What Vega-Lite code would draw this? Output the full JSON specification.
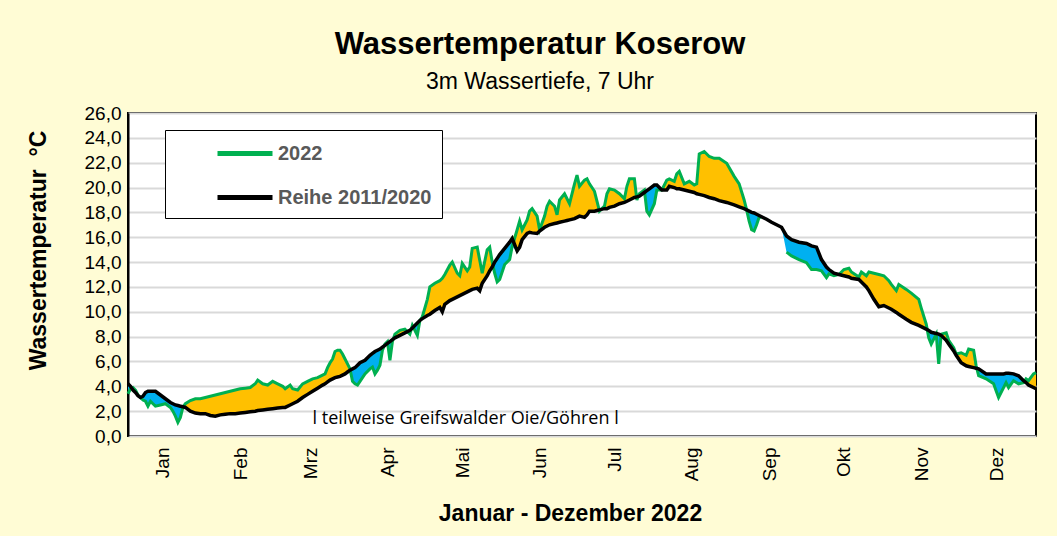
{
  "$schema": "https://vega.github.io/schema/vega-lite/v6.json",
  "autosize": {"type": "none"},
  "width": 908,
  "height": 323,
  "padding": {"left": 128, "top": 113, "right": 21, "bottom": 100},
  "title": {"text": "Wassertemperatur Koserow", "subtitle": "3m Wassertiefe, 7 Uhr", "font": "Liberation Sans", "fontSize": 31, "fontWeight": "bold", "color": "#000", "subtitleFont": "Liberation Sans", "subtitleFontSize": 23, "subtitleColor": "#000", "anchor": "middle", "dx": -42, "offset": 9, "subtitlePadding": 10},
  "config": {
    "background": "#FFFCD5",
    "view": {"fill": "white", "stroke": "#000", "strokeWidth": 2},
    "font": "Liberation Sans",
    "axis": {"labelFont": "Liberation Sans", "labelFontSize": 19, "labelColor": "#000", "titleFont": "Liberation Sans", "titleFontSize": 23, "titleFontWeight": "bold", "titleColor": "#000", "ticks": false, "labelOverlap": false},
    "axisY": {"labelFontSize": 19, "labelOverlap": false, "labelSeparation": 0, "tickCount": 14}
  },
  "data": {"values": [
    {"day":1,"y2022":3.4,"ref":4.2},{"day":2,"y2022":3.8,"ref":4.0},{"day":3,"y2022":3.9,"ref":3.7},{"day":4,"y2022":3.7,"ref":3.5},{"day":5,"y2022":3.3,"ref":3.25},{"day":6,"y2022":3.1,"ref":3.1},{"day":7,"y2022":2.9,"ref":3.2},{"day":8,"y2022":2.8,"ref":3.5},{"day":9,"y2022":2.4,"ref":3.6},{"day":10,"y2022":2.8,"ref":3.6},{"day":11,"y2022":2.6,"ref":3.6},{"day":12,"y2022":2.4,"ref":3.6},{"day":14,"y2022":2.5,"ref":3.3},{"day":16,"y2022":2.6,"ref":3.0},{"day":18,"y2022":2.3,"ref":2.7},{"day":19,"y2022":2.0,"ref":2.6},{"day":20,"y2022":1.6,"ref":2.5},{"day":21,"y2022":1.1,"ref":2.45},{"day":22,"y2022":1.5,"ref":2.4},{"day":23,"y2022":2.3,"ref":2.35},{"day":24,"y2022":2.6,"ref":2.3},{"day":26,"y2022":2.85,"ref":2.0},{"day":28,"y2022":3.0,"ref":1.85},{"day":30,"y2022":3.0,"ref":1.8},{"day":32,"y2022":3.1,"ref":1.8},{"day":34,"y2022":3.2,"ref":1.65},{"day":36,"y2022":3.3,"ref":1.6},{"day":38,"y2022":3.4,"ref":1.7},{"day":40,"y2022":3.5,"ref":1.75},{"day":42,"y2022":3.6,"ref":1.8},{"day":44,"y2022":3.7,"ref":1.8},{"day":46,"y2022":3.8,"ref":1.85},{"day":48,"y2022":3.85,"ref":1.9},{"day":50,"y2022":3.9,"ref":1.95},{"day":52,"y2022":4.2,"ref":2.0},{"day":53,"y2022":4.5,"ref":2.05},{"day":55,"y2022":4.2,"ref":2.1},{"day":57,"y2022":4.1,"ref":2.15},{"day":59,"y2022":4.4,"ref":2.2},{"day":61,"y2022":4.2,"ref":2.25},{"day":63,"y2022":4.0,"ref":2.3},{"day":64,"y2022":3.8,"ref":2.3},{"day":66,"y2022":4.1,"ref":2.5},{"day":67,"y2022":3.8,"ref":2.6},{"day":69,"y2022":3.7,"ref":2.8},{"day":71,"y2022":4.2,"ref":3.1},{"day":73,"y2022":4.4,"ref":3.35},{"day":75,"y2022":4.6,"ref":3.6},{"day":77,"y2022":4.7,"ref":3.85},{"day":79,"y2022":4.9,"ref":4.1},{"day":80,"y2022":5.0,"ref":4.2},{"day":81,"y2022":5.5,"ref":4.35},{"day":82,"y2022":5.9,"ref":4.5},{"day":83,"y2022":6.2,"ref":4.6},{"day":84,"y2022":6.8,"ref":4.7},{"day":85,"y2022":6.9,"ref":4.75},{"day":86,"y2022":6.9,"ref":4.8},{"day":87,"y2022":6.6,"ref":4.9},{"day":88,"y2022":6.2,"ref":5.0},{"day":89,"y2022":5.8,"ref":5.15},{"day":90,"y2022":5.4,"ref":5.3},{"day":91,"y2022":4.4,"ref":5.4},{"day":92,"y2022":4.2,"ref":5.5},{"day":93,"y2022":4.1,"ref":5.7},{"day":94,"y2022":4.4,"ref":5.9},{"day":96,"y2022":5.0,"ref":6.1},{"day":98,"y2022":5.4,"ref":6.5},{"day":99,"y2022":5.55,"ref":6.65},{"day":100,"y2022":5.0,"ref":6.8},{"day":101,"y2022":5.3,"ref":6.9},{"day":102,"y2022":5.7,"ref":7.0},{"day":103,"y2022":6.9,"ref":7.15},{"day":104,"y2022":7.4,"ref":7.3},{"day":105,"y2022":7.6,"ref":7.45},{"day":106,"y2022":6.1,"ref":7.6},{"day":107,"y2022":7.6,"ref":7.75},{"day":108,"y2022":8.2,"ref":7.9},{"day":110,"y2022":8.5,"ref":8.1},{"day":112,"y2022":8.6,"ref":8.3},{"day":114,"y2022":8.2,"ref":8.5},{"day":115,"y2022":8.9,"ref":8.7},{"day":117,"y2022":8.1,"ref":9.1},{"day":118,"y2022":9.3,"ref":9.3},{"day":119,"y2022":9.6,"ref":9.45},{"day":121,"y2022":11.0,"ref":9.7},{"day":122,"y2022":12.0,"ref":9.8},{"day":124,"y2022":12.3,"ref":10.1},{"day":126,"y2022":12.5,"ref":10.35},{"day":127,"y2022":12.7,"ref":10.0},{"day":128,"y2022":13.0,"ref":10.6},{"day":130,"y2022":13.75,"ref":10.9},{"day":131,"y2022":14.0,"ref":11.0},{"day":133,"y2022":13.1,"ref":11.2},{"day":134,"y2022":12.9,"ref":11.3},{"day":135,"y2022":13.9,"ref":11.4},{"day":137,"y2022":13.3,"ref":11.6},{"day":138,"y2022":13.6,"ref":11.7},{"day":139,"y2022":15.1,"ref":11.8},{"day":141,"y2022":15.2,"ref":11.9},{"day":142,"y2022":14.15,"ref":11.7},{"day":143,"y2022":13.1,"ref":12.3},{"day":145,"y2022":15.0,"ref":12.9},{"day":146,"y2022":15.2,"ref":13.3},{"day":147,"y2022":14.0,"ref":13.6},{"day":148,"y2022":13.1,"ref":14.0},{"day":149,"y2022":12.4,"ref":14.3},{"day":150,"y2022":12.6,"ref":14.6},{"day":152,"y2022":13.8,"ref":15.1},{"day":154,"y2022":14.2,"ref":15.6},{"day":155,"y2022":15.25,"ref":15.9},{"day":157,"y2022":16.6,"ref":14.9},{"day":158,"y2022":17.3,"ref":15.2},{"day":159,"y2022":16.6,"ref":15.8},{"day":161,"y2022":17.4,"ref":16.3},{"day":162,"y2022":18.1,"ref":16.4},{"day":163,"y2022":18.3,"ref":16.35},{"day":165,"y2022":17.7,"ref":16.3},{"day":166,"y2022":16.6,"ref":16.5},{"day":168,"y2022":17.7,"ref":16.8},{"day":169,"y2022":18.5,"ref":16.9},{"day":170,"y2022":18.9,"ref":17.0},{"day":172,"y2022":18.5,"ref":17.1},{"day":173,"y2022":17.8,"ref":17.15},{"day":174,"y2022":19.0,"ref":17.2},{"day":176,"y2022":19.5,"ref":17.3},{"day":177,"y2022":19.1,"ref":17.35},{"day":178,"y2022":18.7,"ref":17.4},{"day":180,"y2022":20.3,"ref":17.5},{"day":181,"y2022":21.0,"ref":17.6},{"day":182,"y2022":20.1,"ref":17.7},{"day":184,"y2022":20.6,"ref":17.6},{"day":185,"y2022":20.7,"ref":17.8},{"day":186,"y2022":20.3,"ref":18.1},{"day":188,"y2022":19.7,"ref":18.1},{"day":189,"y2022":18.9,"ref":18.15},{"day":190,"y2022":18.1,"ref":18.2},{"day":192,"y2022":18.5,"ref":18.3},{"day":193,"y2022":19.5,"ref":18.3},{"day":194,"y2022":19.9,"ref":18.4},{"day":196,"y2022":19.8,"ref":18.5},{"day":198,"y2022":19.5,"ref":18.7},{"day":200,"y2022":19.1,"ref":18.8},{"day":201,"y2022":20.1,"ref":18.9},{"day":202,"y2022":20.7,"ref":19.0},{"day":204,"y2022":20.7,"ref":19.2},{"day":205,"y2022":19.0,"ref":19.25},{"day":206,"y2022":19.5,"ref":19.3},{"day":208,"y2022":19.8,"ref":19.6},{"day":209,"y2022":18.1,"ref":19.75},{"day":210,"y2022":17.8,"ref":19.9},{"day":212,"y2022":18.7,"ref":20.2},{"day":213,"y2022":19.8,"ref":20.2},{"day":215,"y2022":19.8,"ref":19.8},{"day":217,"y2022":20.6,"ref":19.8},{"day":218,"y2022":20.7,"ref":20.1},{"day":220,"y2022":20.5,"ref":20.0},{"day":221,"y2022":21.1,"ref":19.9},{"day":222,"y2022":21.3,"ref":19.9},{"day":224,"y2022":20.3,"ref":19.8},{"day":226,"y2022":20.5,"ref":19.7},{"day":228,"y2022":20.2,"ref":19.6},{"day":229,"y2022":20.3,"ref":19.5},{"day":230,"y2022":22.7,"ref":19.45},{"day":232,"y2022":22.9,"ref":19.35},{"day":234,"y2022":22.5,"ref":19.2},{"day":236,"y2022":22.35,"ref":19.1},{"day":238,"y2022":22.35,"ref":18.95},{"day":241,"y2022":21.95,"ref":18.8},{"day":244,"y2022":20.9,"ref":18.6},{"day":246,"y2022":20.3,"ref":18.45},{"day":248,"y2022":19.0,"ref":18.3},{"day":249,"y2022":18.2,"ref":18.2},{"day":250,"y2022":17.3,"ref":18.1},{"day":251,"y2022":16.6,"ref":18.0},{"day":252,"y2022":16.5,"ref":17.95},{"day":253,"y2022":17.0,"ref":17.85},{"day":254,"y2022":17.6,"ref":17.75},{"day":255,"y2022":17.6,"ref":17.65},{"day":257,"y2022":null,"ref":17.45},{"day":259,"y2022":null,"ref":17.2},{"day":261,"y2022":null,"ref":17.0},{"day":263,"y2022":null,"ref":16.8},{"day":265,"y2022":14.8,"ref":16.1},{"day":267,"y2022":14.5,"ref":15.8},{"day":270,"y2022":14.2,"ref":15.6},{"day":273,"y2022":13.95,"ref":15.5},{"day":275,"y2022":13.4,"ref":15.3},{"day":277,"y2022":13.4,"ref":15.2},{"day":279,"y2022":13.3,"ref":14.2},{"day":281,"y2022":12.75,"ref":13.6},{"day":282,"y2022":13.05,"ref":13.4},{"day":284,"y2022":12.9,"ref":13.1},{"day":286,"y2022":13.0,"ref":13.0},{"day":288,"y2022":13.4,"ref":12.9},{"day":290,"y2022":13.5,"ref":12.8},{"day":291,"y2022":13.2,"ref":12.7},{"day":294,"y2022":12.8,"ref":12.6},{"day":295,"y2022":13.2,"ref":12.4},{"day":297,"y2022":12.9,"ref":12.0},{"day":298,"y2022":13.2,"ref":11.7},{"day":300,"y2022":13.1,"ref":11.0},{"day":302,"y2022":13.0,"ref":10.4},{"day":304,"y2022":12.9,"ref":10.5},{"day":306,"y2022":12.5,"ref":10.3},{"day":307,"y2022":12.2,"ref":10.2},{"day":309,"y2022":11.7,"ref":9.95},{"day":310,"y2022":12.2,"ref":9.8},{"day":313,"y2022":11.8,"ref":9.4},{"day":315,"y2022":11.5,"ref":9.15},{"day":318,"y2022":11.0,"ref":8.9},{"day":319,"y2022":10.3,"ref":8.8},{"day":321,"y2022":9.0,"ref":8.6},{"day":322,"y2022":7.9,"ref":8.5},{"day":323,"y2022":7.4,"ref":8.35},{"day":325,"y2022":8.2,"ref":8.25},{"day":326,"y2022":5.8,"ref":8.2},{"day":327,"y2022":8.2,"ref":8.1},{"day":329,"y2022":8.3,"ref":7.7},{"day":330,"y2022":7.7,"ref":7.4},{"day":332,"y2022":7.1,"ref":6.85},{"day":333,"y2022":6.6,"ref":6.5},{"day":335,"y2022":6.7,"ref":5.9},{"day":337,"y2022":6.5,"ref":5.65},{"day":338,"y2022":7.0,"ref":5.6},{"day":340,"y2022":6.9,"ref":5.5},{"day":341,"y2022":5.65,"ref":5.45},{"day":342,"y2022":4.85,"ref":5.4},{"day":345,"y2022":4.6,"ref":5.0},{"day":348,"y2022":4.2,"ref":5.0},{"day":349,"y2022":3.65,"ref":5.0},{"day":350,"y2022":3.1,"ref":5.0},{"day":352,"y2022":3.9,"ref":5.0},{"day":353,"y2022":4.3,"ref":5.05},{"day":354,"y2022":3.9,"ref":5.05},{"day":356,"y2022":4.45,"ref":5.0},{"day":358,"y2022":4.2,"ref":4.85},{"day":360,"y2022":4.3,"ref":4.45},{"day":361,"y2022":4.6,"ref":4.3},{"day":362,"y2022":4.45,"ref":4.1},{"day":364,"y2022":5.0,"ref":3.9},{"day":365,"y2022":5.1,"ref":3.8}
  ]},
  "encoding": {
    "x": {"field": "day", "type": "quantitative", "scale": {"domain": [1, 365], "nice": false, "zero": false},
      "axis": {"title": "Januar - Dezember 2022", "values": [15, 46, 74, 105, 135, 166, 196, 227, 258, 288, 319, 349],
        "labelExpr": "['Jan','Feb','Mrz','Apr','Mai','Jun','Jul','Aug','Sep','Okt','Nov','Dez'][indexof([15,46,74,105,135,166,196,227,258,288,319,349], datum.value)]",
        "labelAngle": -90, "labelPadding": 11, "labelOverlap": false, "grid": false, "domain": false, "titleX": 442, "titleY": 77, "titleAlign": "center", "titleBaseline": "middle"}}
  },
  "layer": [
    {
      "transform": [
        {"fold": ["y2022", "ref"], "as": ["series", "temp"]},
        {"joinaggregate": [{"op": "max", "field": "temp", "as": "hi"}, {"op": "min", "field": "temp", "as": "lo"}], "groupby": ["day"]},
        {"filter": "datum.series === 'ref'"}
      ],
      "encoding": {
        "y": {"field": "hi", "type": "quantitative", "scale": {"domain": [0, 26], "nice": false},
          "axis": {"title": "Wassertemperatur\u00a0 °C", "values": [0, 2, 4, 6, 8, 10, 12, 14, 16, 18, 20, 22, 24, 26],
            "labelExpr": "replace(format(datum.value, '.1f'), '.', ',')", "labelOverlap": false, "labelBound": false, "labelFlush": false,
            "labelFontSize": 19, "grid": true, "gridColor": "#D9D9D9", "gridWidth": 2,
            "domain": true, "domainColor": "#000", "domainWidth": 2, "labelPadding": 7,
            "titleX": -90, "titleY": 137, "titleAngle": -90, "titleAlign": "center", "titleBaseline": "middle"}},
        "y2": {"field": "ref"}
      },
      "layer": [
        {"mark": {"type": "area", "color": "#FFC000"}},
        {
          "mark": {"type": "area", "color": "#00B0F0"},
          "encoding": {
            "y": {"field": "lo", "type": "quantitative", "title": "Wassertemperatur\u00a0 °C"}
          }
        }
      ]
    },
    {
      "mark": {"type": "line", "strokeWidth": 3, "invalid": "break-paths-filter-domains"},
      "encoding": {
        "y": {"field": "y2022", "type": "quantitative", "title": "Wassertemperatur\u00a0 °C"},
        "color": {"datum": "2022", "type": "nominal",
          "scale": {"domain": ["2022", "Reihe 2011/2020"], "range": ["#00B050", "#000000"]},
          "legend": {"orient": "none", "legendX": 37, "legendY": 17, "title": null, "strokeColor": "#000", "fillColor": "#fff",
            "padding": 10, "symbolType": "M-1,0H4", "symbolSize": 484, "symbolStrokeWidth": 5, "symbolOffset": 40,
            "labelFont": "Liberation Sans", "labelFontSize": 20, "labelFontWeight": "bold", "labelColor": "#595959", "labelOffset": 36, "rowPadding": 20}}
      }
    },
    {
      "mark": {"type": "line", "strokeWidth": 3.5},
      "encoding": {
        "y": {"field": "ref", "type": "quantitative", "title": "Wassertemperatur\u00a0 °C"},
        "color": {"datum": "Reihe 2011/2020", "type": "nominal"}
      }
    },
    {
      "data": {"values": [{"day": 75, "temp": 1.4, "note": "l teilweise Greifswalder Oie/Göhren l"}]},
      "mark": {"type": "text", "align": "left", "baseline": "middle", "font": "Open Sans", "fontSize": 18, "color": "#000"},
      "encoding": {
        "y": {"field": "temp", "type": "quantitative", "title": "Wassertemperatur\u00a0 °C"},
        "text": {"field": "note"}
      }
    }
  ]
}
